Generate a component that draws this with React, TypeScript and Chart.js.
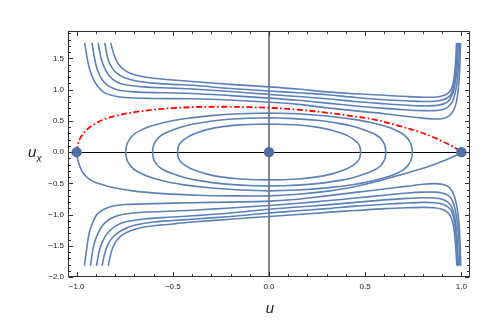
import React, { useEffect, useRef } from 'react';
import { Chart, registerables } from 'chart.js';

Chart.register(...registerables);

type P = [number, number];

// axis ranges and tick labels
const xRange: P = [-1.045, 1.045];
const yRange: P = [-2, 1.94];
const xMajorTicks = [-1, -0.5, 0, 0.5, 1];
const yMajorTicks = [-2, -1.5, -1, -0.5, 0, 0.5, 1, 1.5];
const minorStep = 0.1;

// equilibria
const fixedPoints: P[] = [[-1, 0], [0, 0], [1, 0]];

// upper heteroclinic orbit (red dot-dashed)
const separatrixUpper: P[] = [
  [-1, 0], [-0.996, 0.08], [-0.99, 0.17], [-0.97, 0.28], [-0.94, 0.38], [-0.9, 0.46], [-0.87, 0.51],
  [-0.8, 0.58], [-0.7, 0.64], [-0.6, 0.68], [-0.5, 0.705], [-0.385, 0.722], [-0.25, 0.727],
  [-0.1, 0.72], [0, 0.71], [0.15, 0.68], [0.318, 0.625], [0.45, 0.57], [0.55, 0.52], [0.665, 0.43],
  [0.776, 0.33], [0.838, 0.26], [0.9, 0.175], [0.95, 0.1], [0.98, 0.045], [1, 0],
];

// lower heteroclinic orbit
const separatrixLower: P[] = [
  [-1, 0], [-0.996, -0.08], [-0.99, -0.17], [-0.973, -0.3], [-0.95, -0.39], [-0.92, -0.46], [-0.87, -0.52],
  [-0.8, -0.575], [-0.7, -0.625], [-0.55, -0.665], [-0.367, -0.69], [-0.2, -0.7], [0, -0.7],
  [0.15, -0.675], [0.318, -0.62], [0.45, -0.55], [0.55, -0.48], [0.665, -0.38], [0.78, -0.28],
  [0.87, -0.185], [0.93, -0.11], [0.977, -0.045], [1, 0],
];

// closed orbits around the centre
const orbitInner: P[] = [
  [0, 0.45], [0.15, 0.435], [0.25, 0.4], [0.322, 0.355], [0.37, 0.31], [0.41, 0.26], [0.44, 0.205],
  [0.46, 0.15], [0.472, 0.09], [0.476, 0], [0.472, -0.09], [0.46, -0.15], [0.44, -0.205], [0.41, -0.258],
  [0.37, -0.307], [0.322, -0.352], [0.25, -0.397], [0.15, -0.43], [0, -0.445], [-0.15, -0.43],
  [-0.25, -0.397], [-0.322, -0.352], [-0.37, -0.307], [-0.41, -0.258], [-0.44, -0.205], [-0.46, -0.15],
  [-0.471, -0.09], [-0.475, 0], [-0.471, 0.09], [-0.46, 0.15], [-0.44, 0.205], [-0.41, 0.262],
  [-0.37, 0.315], [-0.322, 0.36], [-0.25, 0.405], [-0.15, 0.437], [0, 0.45],
];
const orbitMiddle: P[] = [
  [0, 0.548], [0.1, 0.541], [0.25, 0.51], [0.37, 0.457], [0.44, 0.41], [0.5, 0.35], [0.55, 0.285],
  [0.58, 0.22], [0.598, 0.14], [0.605, 0.07], [0.607, 0], [0.605, -0.07], [0.598, -0.14], [0.58, -0.218],
  [0.55, -0.282], [0.5, -0.347], [0.44, -0.405], [0.37, -0.452], [0.25, -0.505], [0.1, -0.535], [0, -0.54],
  [-0.1, -0.535], [-0.25, -0.505], [-0.37, -0.452], [-0.44, -0.405], [-0.5, -0.347], [-0.55, -0.282],
  [-0.578, -0.218], [-0.596, -0.14], [-0.603, -0.07], [-0.605, 0], [-0.603, 0.07], [-0.596, 0.14],
  [-0.578, 0.22], [-0.55, 0.29], [-0.5, 0.355], [-0.44, 0.415], [-0.37, 0.462], [-0.25, 0.515],
  [-0.1, 0.543], [0, 0.548],
];
const orbitOuter: P[] = [
  [0, 0.625], [0.15, 0.614], [0.3, 0.578], [0.45, 0.52], [0.54, 0.465], [0.613, 0.405], [0.66, 0.35],
  [0.696, 0.29], [0.72, 0.22], [0.735, 0.15], [0.742, 0.08], [0.745, 0], [0.742, -0.08], [0.735, -0.15],
  [0.72, -0.22], [0.696, -0.288], [0.66, -0.347], [0.613, -0.4], [0.54, -0.46], [0.45, -0.515],
  [0.3, -0.572], [0.15, -0.607], [0, -0.62], [-0.15, -0.607], [-0.3, -0.575], [-0.45, -0.52],
  [-0.54, -0.465], [-0.613, -0.405], [-0.66, -0.35], [-0.696, -0.29], [-0.72, -0.22], [-0.735, -0.15],
  [-0.742, -0.08], [-0.745, 0], [-0.742, 0.08], [-0.735, 0.15], [-0.72, 0.225], [-0.696, 0.3],
  [-0.66, 0.36], [-0.613, 0.418], [-0.54, 0.48], [-0.45, 0.53], [-0.3, 0.585], [-0.15, 0.615], [0, 0.625],
];

// unbounded orbits above the upper separatrix
const upper1: P[] = [
  [-0.958, 1.75], [-0.945, 1.5], [-0.93, 1.3], [-0.91, 1.15], [-0.89, 1.05], [-0.86, 0.96], [-0.82, 0.91],
  [-0.75, 0.875], [-0.6, 0.86], [-0.4, 0.855], [-0.2, 0.835], [0, 0.8], [0.15, 0.765], [0.3, 0.71],
  [0.45, 0.66], [0.6, 0.615], [0.72, 0.57], [0.8, 0.545], [0.86, 0.53], [0.905, 0.54], [0.935, 0.575],
  [0.958, 0.66], [0.974, 0.8], [0.984, 1.0], [0.991, 1.3], [0.996, 1.75],
];
const upper2: P[] = [
  [-0.92, 1.75], [-0.907, 1.5], [-0.89, 1.3], [-0.865, 1.15], [-0.835, 1.06], [-0.79, 1.0], [-0.7, 0.965],
  [-0.55, 0.95], [-0.4, 0.94], [-0.2, 0.905], [0, 0.865], [0.15, 0.83], [0.3, 0.785], [0.45, 0.74],
  [0.6, 0.7], [0.72, 0.675], [0.8, 0.665], [0.86, 0.665], [0.9, 0.68], [0.93, 0.72], [0.952, 0.8],
  [0.968, 0.95], [0.979, 1.15], [0.987, 1.45], [0.991, 1.75],
];
const upper3: P[] = [
  [-0.888, 1.75], [-0.873, 1.5], [-0.855, 1.35], [-0.83, 1.22], [-0.79, 1.12], [-0.74, 1.075],
  [-0.65, 1.045], [-0.5, 1.025], [-0.4, 1.01], [-0.2, 0.97], [0, 0.925], [0.15, 0.89], [0.3, 0.855],
  [0.45, 0.81], [0.6, 0.775], [0.72, 0.75], [0.8, 0.74], [0.86, 0.745], [0.9, 0.765], [0.93, 0.81],
  [0.95, 0.9], [0.965, 1.05], [0.976, 1.3], [0.985, 1.75],
];
const upper4: P[] = [
  [-0.854, 1.75], [-0.838, 1.5], [-0.82, 1.37], [-0.79, 1.26], [-0.75, 1.19], [-0.69, 1.14], [-0.6, 1.105],
  [-0.5, 1.085], [-0.4, 1.07], [-0.2, 1.02], [0, 0.98], [0.15, 0.95], [0.3, 0.92], [0.45, 0.875],
  [0.6, 0.84], [0.72, 0.82], [0.8, 0.81], [0.86, 0.815], [0.9, 0.835], [0.93, 0.875], [0.95, 0.95],
  [0.963, 1.1], [0.973, 1.35], [0.98, 1.75],
];
const upper5: P[] = [
  [-0.823, 1.75], [-0.805, 1.55], [-0.785, 1.42], [-0.75, 1.31], [-0.7, 1.24], [-0.62, 1.19], [-0.5, 1.155],
  [-0.4, 1.13], [-0.2, 1.085], [0, 1.045], [0.15, 1.01], [0.3, 0.965], [0.45, 0.935], [0.6, 0.91],
  [0.72, 0.89], [0.8, 0.88], [0.86, 0.88], [0.9, 0.9], [0.93, 0.94], [0.948, 1.01], [0.96, 1.15],
  [0.969, 1.4], [0.975, 1.75],
];

// unbounded orbits below the lower separatrix
const lower1: P[] = [
  [-0.96, -1.82], [-0.95, -1.6], [-0.935, -1.3], [-0.915, -1.12], [-0.895, -1.0], [-0.86, -0.92],
  [-0.82, -0.87], [-0.75, -0.84], [-0.6, -0.825], [-0.4, -0.81], [-0.2, -0.8], [0, -0.785],
  [0.15, -0.755], [0.3, -0.7], [0.45, -0.645], [0.6, -0.59], [0.72, -0.545], [0.8, -0.515],
  [0.86, -0.505], [0.9, -0.515], [0.93, -0.55], [0.955, -0.64], [0.972, -0.8], [0.983, -1.0],
  [0.991, -1.3], [0.997, -1.82],
];
const lower2: P[] = [
  [-0.928, -1.82], [-0.915, -1.55], [-0.9, -1.38], [-0.875, -1.22], [-0.845, -1.11], [-0.8, -1.03],
  [-0.72, -0.98], [-0.6, -0.955], [-0.4, -0.93], [-0.2, -0.895], [0, -0.855], [0.15, -0.82], [0.3, -0.78],
  [0.45, -0.735], [0.6, -0.69], [0.72, -0.655], [0.8, -0.64], [0.86, -0.64], [0.9, -0.655], [0.93, -0.69],
  [0.952, -0.77], [0.968, -0.92], [0.98, -1.15], [0.988, -1.45], [0.993, -1.82],
];
const lower3: P[] = [
  [-0.897, -1.82], [-0.882, -1.58], [-0.865, -1.43], [-0.84, -1.3], [-0.8, -1.19], [-0.75, -1.12],
  [-0.65, -1.07], [-0.5, -1.04], [-0.4, -1.02], [-0.2, -0.975], [0, -0.915], [0.15, -0.88], [0.3, -0.845],
  [0.45, -0.805], [0.6, -0.765], [0.72, -0.74], [0.8, -0.73], [0.86, -0.735], [0.9, -0.755], [0.93, -0.8],
  [0.95, -0.88], [0.965, -1.03], [0.976, -1.3], [0.985, -1.82],
];
const lower4: P[] = [
  [-0.868, -1.82], [-0.852, -1.6], [-0.834, -1.46], [-0.805, -1.34], [-0.765, -1.25], [-0.7, -1.17],
  [-0.6, -1.12], [-0.5, -1.095], [-0.4, -1.075], [-0.2, -1.03], [0, -0.975], [0.15, -0.94], [0.3, -0.905],
  [0.45, -0.865], [0.6, -0.835], [0.72, -0.815], [0.8, -0.805], [0.86, -0.81], [0.9, -0.83], [0.93, -0.875],
  [0.95, -0.95], [0.963, -1.1], [0.973, -1.35], [0.981, -1.82],
];
const lower5: P[] = [
  [-0.836, -1.82], [-0.82, -1.6], [-0.8, -1.45], [-0.77, -1.34], [-0.72, -1.26], [-0.65, -1.2],
  [-0.5, -1.15], [-0.4, -1.12], [-0.2, -1.075], [0, -1.03], [0.15, -1.0], [0.3, -0.965], [0.45, -0.935],
  [0.6, -0.905], [0.72, -0.89], [0.8, -0.885], [0.86, -0.89], [0.9, -0.915], [0.93, -0.97], [0.948, -1.06],
  [0.96, -1.2], [0.969, -1.45], [0.977, -1.82],
];

const blueCurves: P[][] = [
  orbitInner, orbitMiddle, orbitOuter, separatrixLower,
  upper1, upper2, upper3, upper4, upper5,
  lower1, lower2, lower3, lower4, lower5,
];

const BLUE = 'rgb(94,129,181)';
const FONT = '"Liberation Sans", Arial, sans-serif';

const toXY = (pts: P[]) => pts.map(([x, y]) => ({ x, y }));

function minorValues(lo: number, hi: number): number[] {
  const out: number[] = [];
  const n0 = Math.ceil(lo / minorStep - 1e-9);
  const n1 = Math.floor(hi / minorStep + 1e-9);
  for (let i = n0; i <= n1; i++) out.push(Math.round(i * minorStep * 10) / 10);
  return out;
}

const fmt = (v: number) => (v < 0 ? '\u2212' : '') + Math.abs(v).toFixed(1);

const framePlugin = {
  id: 'mmaFrame',
  beforeDatasetsDraw(chart: any) {
    const { ctx, chartArea: a, scales } = chart;
    const x0 = Math.round(scales.x.getPixelForValue(0));
    const y0 = Math.round(scales.y.getPixelForValue(0)) + 0.5;
    ctx.save();
    ctx.strokeStyle = '#6a6a6a';
    ctx.lineWidth = 1.6;
    ctx.beginPath();
    ctx.moveTo(x0, a.top);
    ctx.lineTo(x0, a.bottom);
    ctx.stroke();
    ctx.strokeStyle = '#000';
    ctx.lineWidth = 1;
    ctx.beginPath();
    ctx.moveTo(a.left, y0);
    ctx.lineTo(a.right, y0);
    ctx.stroke();
    ctx.restore();
  },
  afterDraw(chart: any) {
    const { ctx, chartArea: a, scales } = chart;
    const xs = scales.x, ys = scales.y;
    ctx.save();
    ctx.strokeStyle = '#333';
    ctx.lineWidth = 1;
    const L = Math.round(a.left) + 0.5, R = Math.round(a.right) - 0.5;
    const T = Math.round(a.top) + 0.5, B = Math.round(a.bottom) - 0.5;
    ctx.strokeRect(L, T, R - L, B - T);
    const isMajor = (v: number, majors: number[]) => majors.some((m) => Math.abs(m - v) < 1e-6);
    ctx.beginPath();
    for (const v of minorValues(xRange[0], xRange[1])) {
      const len = isMajor(v, xMajorTicks) ? 4.5 : 2.5;
      const px = Math.round(xs.getPixelForValue(v)) + 0.5;
      ctx.moveTo(px, B); ctx.lineTo(px, B - len);
      ctx.moveTo(px, T); ctx.lineTo(px, T + len);
    }
    for (const v of minorValues(yRange[0], yRange[1])) {
      const len = isMajor(v, yMajorTicks) ? 4.5 : 2.5;
      const py = Math.round(ys.getPixelForValue(v)) + 0.5;
      ctx.moveTo(L, py); ctx.lineTo(L + len, py);
      ctx.moveTo(R, py); ctx.lineTo(R - len, py);
    }
    ctx.stroke();
    // axis titles
    ctx.fillStyle = '#222';
    ctx.textBaseline = 'alphabetic';
    ctx.font = 'italic 15px ' + FONT;
    ctx.textAlign = 'center';
    ctx.fillText('u', 270, 313);
    ctx.textAlign = 'left';
    ctx.fillText('u', 28, 157);
    ctx.font = 'italic 10px ' + FONT;
    ctx.fillText('x', 36.5, 162);
    ctx.restore();
  },
};

export default function App() {
  const ref = useRef<HTMLCanvasElement | null>(null);
  useEffect(() => {
    if (!ref.current) return;
    const datasets: any[] = [
      {
        data: toXY(fixedPoints),
        showLine: false,
        pointRadius: 5.2,
        pointBackgroundColor: 'rgb(78,112,166)',
        pointBorderWidth: 0,
        order: 0,
      },
      {
        data: toXY(separatrixUpper),
        showLine: true,
        pointRadius: 0,
        borderColor: 'rgb(255,0,0)',
        borderWidth: 1.8,
        borderDash: [6, 2.5, 1.6, 2.5],
        tension: 0.35,
        order: 1,
      },
      ...blueCurves.map((c) => ({
        data: toXY(c),
        showLine: true,
        pointRadius: 0,
        borderColor: BLUE,
        borderWidth: 1.6,
        tension: 0.35,
        order: 2,
      })),
    ];
    const chart = new Chart(ref.current, {
      type: 'scatter',
      data: { datasets },
      options: {
        animation: false,
        responsive: false,
        events: [],
        layout: { padding: { left: 0, top: 31, right: 33, bottom: 0 } },
        plugins: { legend: { display: false }, tooltip: { enabled: false } },
        scales: {
          x: {
            type: 'linear',
            min: xRange[0],
            max: xRange[1],
            grid: { display: false, drawTicks: false },
            border: { display: false },
            afterBuildTicks: (s: any) => { s.ticks = xMajorTicks.map((value) => ({ value })); },
            afterFit: (s: any) => { s.height = 45; },
            ticks: {
              padding: 5,
              color: '#222',
              font: { family: FONT, size: 8 },
              maxRotation: 0,
              autoSkip: false,
              callback: (v: any) => fmt(Number(v)),
            },
          },
          y: {
            type: 'linear',
            min: yRange[0],
            max: yRange[1],
            grid: { display: false, drawTicks: false },
            border: { display: false },
            afterBuildTicks: (s: any) => { s.ticks = yMajorTicks.map((value) => ({ value })); },
            afterFit: (s: any) => { s.width = 68; },
            ticks: {
              padding: 4,
              color: '#222',
              font: { family: FONT, size: 8 },
              autoSkip: false,
              callback: (v: any) => fmt(Number(v)),
            },
          },
        },
      },
      plugins: [framePlugin],
    });
    return () => chart.destroy();
  }, []);
  return (
    <div style={{ position: 'absolute', left: 0, top: 0, width: 503, height: 322, background: '#fff' }}>
      <canvas ref={ref} width={503} height={322} style={{ display: 'block' }} />
    </div>
  );
}
